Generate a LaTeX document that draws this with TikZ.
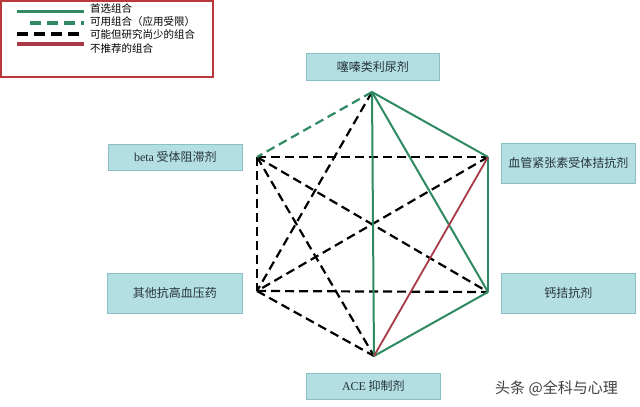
\documentclass[tikz,border=0pt]{standalone}
\usepackage{fontspec}
\setmainfont{Noto Sans CJK SC}
\newfontfamily\cjk{Noto Sans CJK SC}
\newfontfamily\latserif{Liberation Serif}
\definecolor{boxfill}{HTML}{B3DFE2}
\definecolor{boxdraw}{HTML}{8ABFC3}
\definecolor{txt}{HTML}{26333A}
\definecolor{grn}{HTML}{2F8A62}
\definecolor{redl}{HTML}{A83A48}
\definecolor{legred}{HTML}{B8383C}
\tikzset{
  drug/.style={draw=boxdraw, line width=0.8pt, fill=boxfill, text=txt, font=\cjk\fontsize{12}{14}\selectfont, inner sep=0pt, anchor=north west},
  pref/.style={draw=grn, line width=2pt},
  usable/.style={draw=grn, line width=2.2pt, dash pattern=on 9pt off 5pt},
  poss/.style={draw=black, line width=2.2pt, dash pattern=on 9pt off 5pt},
  notrec/.style={draw=redl, line width=1.8pt},
  legtext/.style={font=\cjk\fontsize{10.5}{12}\selectfont, text=black, anchor=west, inner sep=0pt},
}
\begin{document}
\begin{tikzpicture}[x=1pt,y=-1pt]
\useasboundingbox[fill=white] (0,0) rectangle (640,407);
% legend
\draw[draw=legred, line width=2pt] (1,1) rectangle (213,77);
\coordinate (l1a) at (17,11); \coordinate (l1b) at (84,11);
\coordinate (l2a) at (30,23); \coordinate (l2b) at (84,23);
\coordinate (l3a) at (17,34); \coordinate (l3b) at (84,34);
\coordinate (l4a) at (17,44); \coordinate (l4b) at (84,44);
\draw[pref, line width=3pt] (l1a) -- (l1b);
\draw[usable, line width=3.5pt, dash pattern=on 11pt off 6pt] (l2a) -- (l2b);
\draw[poss, line width=3.5pt, dash pattern=on 11pt off 6pt] (l3a) -- (l3b);
\draw[notrec, line width=3.5pt] (l4a) -- (l4b);
\node[legtext] (t1) at (90,8) {首选组合};
\node[legtext] (t2) at (90,22) {可用组合（应用受限）};
\node[legtext] (t3) at (90,34) {可能但研究尚少的组合};
\node[legtext] (t4) at (90,48) {不推荐的组合};
% boxes
\node[drug, minimum width=133pt, minimum height=27pt] (thz) at (306,53) {噻嗪类利尿剂};
\node[drug, minimum width=134pt, minimum height=26pt] (bb) at (108,144) {{\latserif beta} 受体阻滞剂};
\node[drug, minimum width=134pt, minimum height=40pt] (arb) at (501,143) {血管紧张素受体拮抗剂};
\node[drug, minimum width=135pt, minimum height=40pt] (oth) at (107,273) {其他抗高血压药};
\node[drug, minimum width=134pt, minimum height=40pt] (ccb) at (501,273) {钙拮抗剂};
\node[drug, minimum width=134pt, minimum height=26pt] (ace) at (306,373) {{\latserif ACE} 抑制剂};
% vertices
\coordinate (T) at (372,92);
\coordinate (UL) at (257,157);
\coordinate (UR) at (488,157);
\coordinate (LL) at (257,291);
\coordinate (LR) at (488,292);
\coordinate (B) at (374,356);
% edges
\draw[poss] (T) -- (LL);
\draw[poss] (UL) -- (UR);
\draw[poss] (UL) -- (LL);
\draw[poss] (UL) -- (B);
\draw[poss] (UL) -- (LR);
\draw[poss] (UR) -- (LL);
\draw[poss] (LL) -- (LR);
\draw[poss] (LL) -- (B);
\draw[usable] (T) -- (UL);
\draw[pref] (T) -- (UR);
\draw[pref] (T) -- (B);
\draw[pref] (T) -- (LR);
\draw[pref] (UR) -- (LR);
\draw[pref] (LR) -- (B);
\draw[notrec] (UR) -- (B);
% watermark
\node[font=\cjk\fontsize{15}{17}\selectfont, text=black!75, anchor=west, inner sep=0pt] (wm) at (495,388) {头条 @全科与心理};
\end{tikzpicture}
\end{document}
